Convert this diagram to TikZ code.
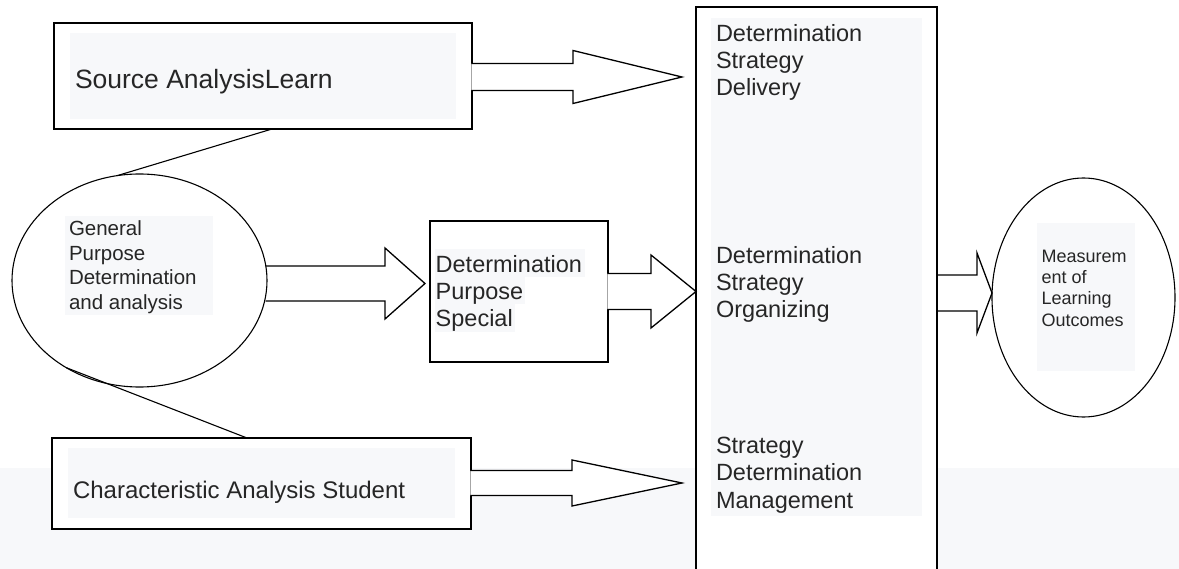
\documentclass[tikz,border=0pt]{standalone}
\usepackage{fontspec}
\setmainfont{Liberation Sans}
\usetikzlibrary{shapes.geometric,calc}
\definecolor{bggray}{RGB}{247,248,250}
\definecolor{textgray}{RGB}{38,38,38}
\tikzset{
  boxnode/.style={draw, rectangle, fill=white, line width=1.5pt, inner sep=0pt, outer sep=0pt},
  ellnode/.style={draw, ellipse, line width=1.1pt, inner sep=0pt, outer sep=0pt},
  lbl/.style={text=textgray, inner sep=0pt, outer sep=0pt, align=left},
  conn/.style={line width=1.1pt},
  barr/.style={draw, fill=white, line width=1.3pt, line join=miter},
}
% #1 extra style, #2 start, #3 tip, #4 shaft half width, #5 head half width, #6 head length, #7 start offset
\newcommand\blockarrow[7][]{%
  \path[barr,#1] let \p1=(#2), \p2=(#3) in
    (\x1#7pt,\y2+#4pt) -- (\x2-#6pt,\y2+#4pt) -- (\x2-#6pt,\y2+#5pt) -- (\x2,\y2)
    -- (\x2-#6pt,\y2-#5pt) -- (\x2-#6pt,\y2-#4pt) -- (\x1#7pt,\y2-#4pt);}
\begin{document}
\begin{tikzpicture}[x=1pt,y=-1pt]
\useasboundingbox (0,0) rectangle (1179,569);
\clip (0,0) rectangle (1179,569);
\fill[bggray] (0,468) rectangle (1179,569);

% big strategy box
\node[boxnode, minimum width=241, minimum height=600] (big) at (816.5,307) {};
\fill[bggray] (711,18) rectangle (922,516);
\node[lbl, font=\fontsize{23.5}{27.2}\selectfont, anchor=north west] (b1) at (716,24.1) {Determination\\Strategy\\Delivery};
\node[lbl, font=\fontsize{23.5}{27.2}\selectfont, anchor=north west] (b2) at (716,246.1) {Determination\\Strategy\\Organizing};
\node[lbl, font=\fontsize{23.5}{27.4}\selectfont, anchor=north west] (b3) at (716,436.8) {Strategy\\Determination\\Management};

% source box
\node[boxnode, minimum width=418, minimum height=106] (src) at (263,76) {};
\fill[bggray] (70,33) rectangle (456,119);
\node[lbl, font=\fontsize{26.5}{30}\selectfont, anchor=base west] (srct) at (75,89) {Source AnalysisLearn};

% general purpose ellipse
\node[ellnode, minimum width=255, minimum height=213] (gp) at (139.5,280.5) {};
\fill[bggray] (65,216) rectangle (213,315);
\node[lbl, font=\fontsize{20.5}{24.4}\selectfont, anchor=north west] (gpt) at (69,221) {General\\Purpose\\Determination\\and analysis};

% special purpose box
\node[boxnode, minimum width=178, minimum height=141] (dps) at (519,291.5) {};
\fill[bggray] (435,249) rectangle (585,277);
\fill[bggray] (435,277) rectangle (525,304);
\fill[bggray] (435,304) rectangle (515,332);
\node[lbl, font=\fontsize{23.5}{27}\selectfont, anchor=north west] (dpst) at (435.7,255.1) {Determination\\Purpose\\Special};

% characteristic box
\node[boxnode, minimum width=419, minimum height=91] (cas) at (261.5,483.5) {};
\fill[bggray] (68,448) rectangle (455,518);
\node[lbl, font=\fontsize{24}{28}\selectfont, anchor=base west] (cast) at (73,498) {Characteristic Analysis Student};

% measurement ellipse
\node[ellnode, minimum width=183, minimum height=239] (mlo) at (1083.5,297.5) {};
\fill[bggray] (1037,223) rectangle (1135,371);
\node[lbl, font=\fontsize{18}{21.2}\selectfont, anchor=north west] (mlot) at (1041.5,250.1) {Measurem\\ent of\\Learning\\Outcomes};

% connectors (lines)
\coordinate (srcb) at (272,129);
\coordinate (casb) at (247,438);
\draw[conn] (gp.102.1) -- (srcb);
\draw[conn] (gp.230.4) -- (casb);

% block arrows
\coordinate (t1) at (682,77);
\coordinate (t2) at (425,283.5);
\coordinate (t3) at (682,483);
\coordinate (t5) at (992,293);
\blockarrow{src.east}{t1}{13.5}{26.5}{109}{-0.75}
\blockarrow[fill=none]{gp.east}{t2}{17.5}{35.5}{40}{-1.5}
\blockarrow{cas.east}{t3}{12.5}{23}{110}{-0.75}
\blockarrow{dps.east}{big.west |- dps.east}{18}{36.5}{45}{-0.75}
\blockarrow[fill=none]{big.east}{t5}{18}{40}{15}{+0.75}
\end{tikzpicture}
\end{document}
